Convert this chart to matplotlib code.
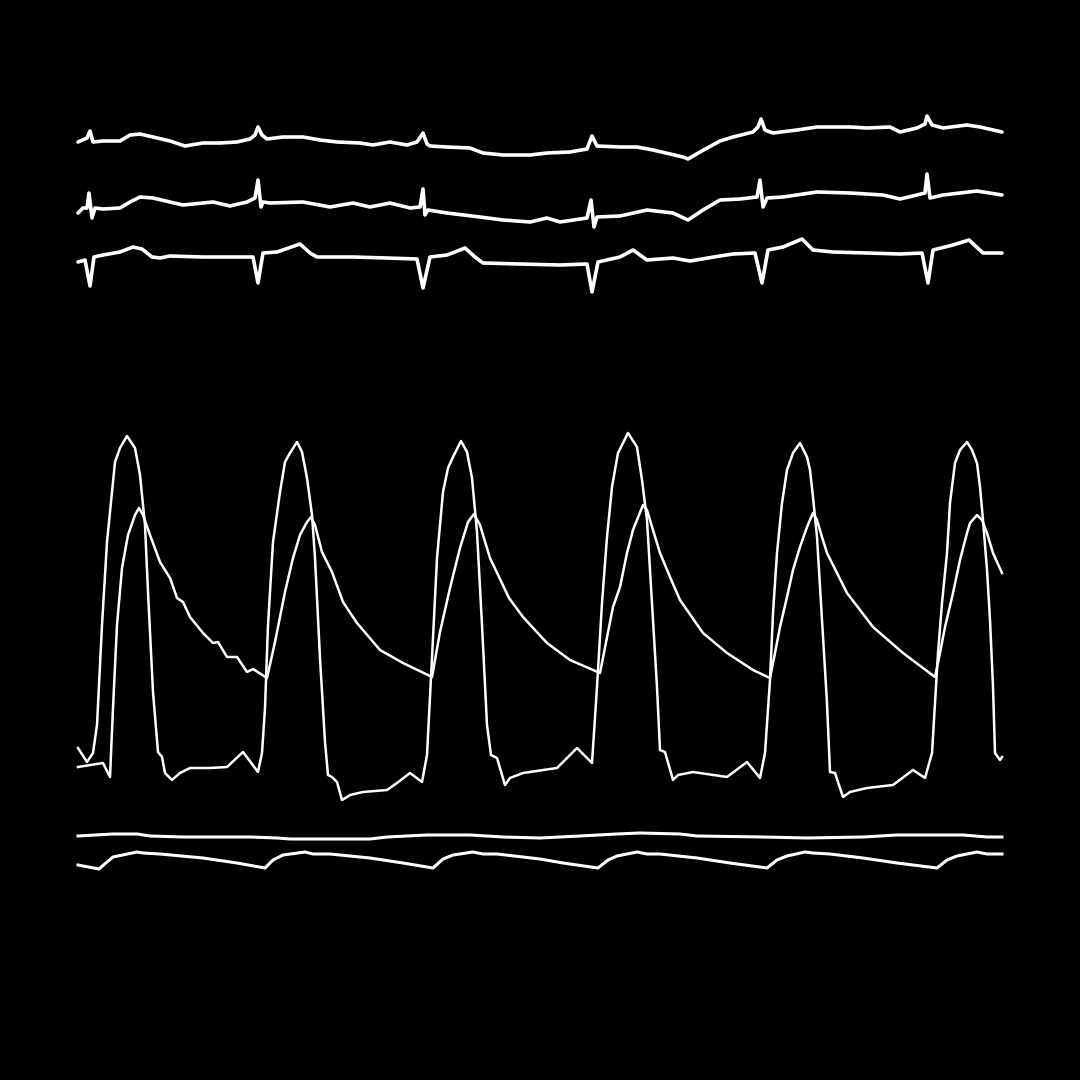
import matplotlib
matplotlib.use("Agg")
import matplotlib.pyplot as plt

# time in ms, pressures in mmHg, ECG in mV, bottom traces in arbitrary units

t_lv = [0, 54, 90, 114, 144, 174, 222, 252, 294, 342, 372, 402, 420, 450, 480, 504, 522, 564, 612, 672, 792, 894,
        990, 1080,
        1104, 1122, 1140, 1170, 1212, 1242, 1272, 1314, 1344, 1374, 1404, 1422, 1452, 1482, 1500, 1524, 1554, 1584,
        1614, 1632, 1710, 1854, 1914, 1992, 2064,
        2094, 2124, 2154, 2190, 2220, 2250, 2298, 2334, 2364, 2394, 2424, 2454, 2478, 2514, 2562, 2592, 2670, 2874,
        2994, 3084,
        3114, 3144, 3174, 3204, 3240, 3300, 3354, 3384, 3414, 3432, 3450, 3474, 3492, 3522, 3570, 3600, 3690, 3894,
        4014, 4092,
        4122, 4152, 4170, 4194, 4224, 4254, 4290, 4332, 4374, 4392, 4410, 4434, 4452, 4470, 4494, 4512, 4542, 4590,
        4632, 4734, 4890, 5010, 5082,
        5124, 5142, 5160, 5184, 5214, 5232, 5262, 5292, 5334, 5364, 5394, 5412, 5430, 5454, 5472, 5490, 5502, 5532,
        5544]
p_lv = [20.8, 15.2, 18.8, 30, 70, 103.2, 135.2, 140.8, 145.6, 140.8, 130, 110, 83.2, 43.2, 19.2, 17.2, 10.8, 8,
        10.8, 12.8, 12.8, 13.2, 19.2, 11.2,
        18.8, 36.8, 70, 103.2, 123.2, 135.2, 138.8, 143.2, 139.2, 128.8, 114, 96.8, 56.8, 23.2, 10, 9.2, 7.2, 0,
        1.2, 2, 3.2, 4, 6.8, 10.8, 7.2,
        18, 56.8, 96.8, 123.2, 132.8, 137.2, 143.6, 139.2, 128.8, 107.2, 70, 30, 18, 16.8, 6, 8.8, 10.8, 12.8,
        20.8, 14.8,
        45.2, 78.8, 105.2, 125.2, 138.8, 146.8, 141.2, 128, 112, 92, 72, 45.2, 20, 19.2, 8, 10, 11.2, 9.2, 15.2,
        8.8,
        18.8, 48, 74.8, 98.8, 118.8, 132, 138.8, 142.8, 137.2, 132, 121.2, 105.2, 85.2, 65.2, 38.8, 11.2, 10.8,
        1.2, 3.2, 4.8, 6, 12, 8.8,
        18.8, 38.8, 58.8, 78.8, 98.8, 118.8, 134.8, 140, 143.2, 140, 134.8, 125.2, 112, 92, 72, 45.2, 18.8, 16,
        17.2]

t_ao = [0, 150, 192, 210, 234, 264, 300, 342, 366, 390, 432, 492, 552, 594, 630, 672, 750, 810, 840, 894, 954,
        1014, 1050, 1134,
        1182, 1242, 1290, 1332, 1374, 1398, 1422, 1464, 1524, 1590, 1674, 1812, 1950, 2124,
        2172, 2232, 2292, 2340, 2376, 2412, 2472, 2586, 2670, 2814, 2952, 3132,
        3210, 3252, 3294, 3330, 3390, 3414, 3450, 3492, 3552, 3612, 3750, 3894, 4050, 4152,
        4182, 4212, 4254, 4290, 4332, 4374, 4410, 4434, 4464, 4494, 4554, 4614, 4770, 4950, 5142,
        5172, 5202, 5250, 5292, 5334, 5352, 5394, 5424, 5454, 5490, 5544]
p_ao = [13.2, 14.8, 9.2, 36.8, 70, 92.8, 106, 114, 116.8, 114, 106, 95.2, 88.8, 80.8, 79.2, 73.2, 66.8, 62.8,
        63.2, 57.2, 57.2, 51.2, 52.4, 48.8,
        63.2, 83.2, 96.8, 106, 111.2, 113.2, 110, 99.2, 91.2, 79.2, 70.8, 60, 54.8, 49.2,
        67.2, 84.8, 100.8, 111.2, 114.4, 110, 96.8, 80.8, 73.2, 62.8, 56, 50.8,
        77.2, 85.2, 98.8, 108, 118, 116, 108, 98.8, 89.2, 80, 66.8, 58.8, 52, 48.8,
        58.8, 69.2, 81.2, 92, 101.2, 109.2, 114.8, 112, 105.2, 98.8, 90.8, 82.8, 69.2, 58.8, 49.2,
        58.8, 69.2, 82.8, 96, 106.8, 110.8, 114, 112, 106.8, 98.8, 90.8]

t_ecg1 = [0, 54, 72, 90, 150, 252, 312, 372, 450, 552, 642, 750, 852, 954, 1032, 1062, 1080, 1104, 1134, 1230,
          1350, 1452, 1554, 1692, 1770, 1872, 1974, 2034, 2070, 2094, 2112, 2214, 2352, 2430, 2550, 2712, 2814,
          2952, 3054, 3084, 3114, 3252, 3354, 3450, 3630, 3660, 3732, 3852, 3930, 4050, 4080, 4098, 4122, 4170,
          4314, 4434, 4632, 4734, 4872, 4932, 5034, 5082, 5094, 5124, 5190, 5334, 5412, 5544]
v_ecg1 = [-0.08, 0.08, 0.36, -0.08, -0.04, -0.04, 0.2, 0.24, 0.12, -0.04, -0.24, -0.12, -0.12, -0.08, 0.04, 0.2,
          0.52, 0.2, 0.04, 0.12, 0.12, 0, -0.08, -0.12, -0.2, -0.08, -0.2, -0.08, 0.28, -0.16, -0.24, -0.28, -0.32,
          -0.52, -0.6, -0.6, -0.52, -0.48, -0.36, 0.16, -0.24, -0.28, -0.28, -0.4, -0.68, -0.76, -0.48, -0.04, 0.12,
          0.32, 0.52, 0.84, 0.4, 0.28, 0.4, 0.52, 0.52, 0.48, 0.52, 0.32, 0.48, 0.64, 0.96, 0.6, 0.48, 0.6, 0.52, 0.32]

t_ecg2 = [0, 30, 54, 66, 84, 102, 150, 252, 312, 372, 450, 552, 630, 750, 810, 912, 1014, 1062, 1080, 1098, 1110,
          1152, 1350, 1512, 1650, 1752, 1872, 1992, 2052, 2070, 2082, 2100, 2214, 2412, 2550, 2712, 2814, 2892,
          3054, 3078, 3096, 3114, 3252, 3414, 3570, 3660, 3750, 3852, 3972, 4074, 4092, 4110, 4134, 4230, 4434,
          4632, 4830, 4932, 5034, 5082, 5094, 5112, 5190, 5394, 5544]
v_ecg2 = [-0.32, -0.12, -0.12, 0.48, -0.52, -0.12, -0.16, -0.12, 0.12, 0.32, 0.28, 0.12, 0, 0.08, 0.12, -0.04,
          0.12, 0.28, 1.0, -0.08, 0.12, 0.08, 0.12, -0.08, 0.08, -0.08, 0.08, -0.12, -0.08, 0.64, -0.4, -0.2, -0.32,
          -0.48, -0.6, -0.68, -0.52, -0.68, -0.52, 0.2, -0.88, -0.48, -0.44, -0.2, -0.32, -0.6, -0.2, 0.2, 0.24,
          0.32, 1.0, -0.08, 0.28, 0.32, 0.52, 0.48, 0.4, 0.24, 0.4, 0.48, 1.24, 0.28, 0.4, 0.56, 0.4]

t_ecg3 = [0, 42, 72, 96, 150, 252, 330, 384, 444, 492, 552, 750, 954, 1050, 1080, 1110, 1194, 1332, 1392, 1434,
          1650, 1854, 2034, 2070, 2112, 2214, 2322, 2382, 2430, 2652, 2892, 3054, 3084, 3120, 3252, 3330, 3414,
          3570, 3672, 3852, 3930, 4062, 4104, 4140, 4230, 4344, 4410, 4530, 4734, 4932, 5064, 5100, 5130, 5250,
          5346, 5430, 5544]
v_ecg3 = [-0.16, -0.08, -1.12, 0.04, 0.12, 0.24, 0.44, 0.36, 0.04, 0, 0.08, 0.04, 0.04, 0.04, -1.0, 0.2, 0.24,
          0.56, 0.2, 0.04, 0.04, 0, -0.04, -1.2, 0.04, 0.12, 0.4, 0.04, -0.2, -0.24, -0.28, -0.24, -1.36, -0.16,
          0.04, 0.32, -0.08, 0, -0.12, 0.08, 0.16, 0.2, -1.0, 0.32, 0.44, 0.76, 0.32, 0.24, 0.2, 0.16, 0.2, -1.0,
          0.32, 0.52, 0.72, 0.2, 0.2]

t_resp = [0, 210, 354, 432, 630, 834, 1032, 1194, 1272, 1752, 1854, 2094, 2352, 2550, 2772, 3012, 3234, 3372,
          3612, 3714, 4110, 4374, 4710, 4914, 5070, 5310, 5454, 5544]
v_resp = [1, 3, 3, 1, 0, 0, 0, -1, -2, -2, 0, 2, 2, 0, -1, 1, 3, 4, 3, 1, 0, -1, 0, 2, 2, 2, 0, 0]

t_pleth = [0, 126, 174, 210, 354, 390, 492, 750, 954, 1122, 1170, 1230, 1362, 1410, 1512, 1752, 1950, 2130, 2190,
           2250, 2370, 2430, 2514, 2772, 2910, 3120, 3180, 3234, 3354, 3414, 3492, 3714, 3912, 4134, 4194, 4254,
           4362, 4410, 4512, 4710, 4914, 5154, 5214, 5274, 5394, 5454, 5544]
v_pleth = [-5, -9, -2, 3, 8, 7, 6, 2, -3, -8, 0, 5, 8, 6, 6, 2, -3, -8, 1, 5, 8, 6, 6, 1, -3, -8, 0, 4, 8, 6, 6,
           2, -3, -8, 0, 4, 8, 7, 6, 2, -3, -8, 0, 4, 8, 6, 6]

W = 1080
fig = plt.figure(figsize=(10.8, 10.8), dpi=100, facecolor="black")


def band(top, bottom, ylim):
    ax = fig.add_axes([78 / W, 1 - bottom / W, 924 / W, (bottom - top) / W])
    ax.set_xlim(0, 5544)
    ax.set_ylim(*ylim)
    ax.axis("off")
    ax.patch.set_alpha(0)
    return ax


ecg_style = dict(color="white", lw=2.6, solid_joinstyle="round", solid_capstyle="round", clip_on=False)
for top, t, v in [(100, t_ecg1, v_ecg1), (165, t_ecg2, v_ecg2), (218, t_ecg3, v_ecg3)]:
    ax = band(top, top + 80, (-1.6, 1.6))
    ax.plot(t, v, **ecg_style)

press_style = dict(color="white", lw=1.8, solid_joinstyle="round", clip_on=False)
ax = band(400, 820, (-8, 160))
ax.plot(t_lv, p_lv, **press_style)
ax.plot(t_ao, p_ao, **press_style)

ax = band(827, 847, (-10, 10))
ax.plot(t_resp, v_resp, color="white", lw=2.2, clip_on=False)

ax = band(845, 875, (-15, 15))
ax.plot(t_pleth, v_pleth, color="white", lw=2.2, solid_joinstyle="round", clip_on=False)

fig.savefig("out.png", dpi=100, facecolor="black")
